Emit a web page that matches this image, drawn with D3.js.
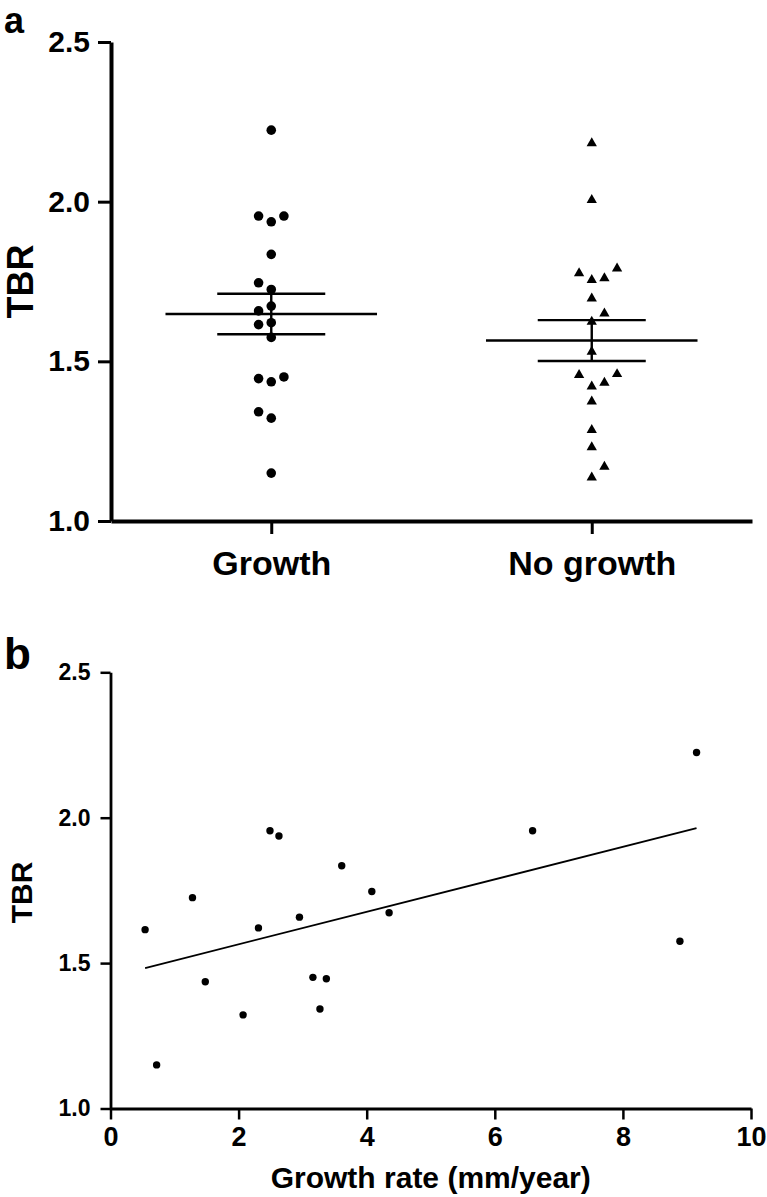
<!DOCTYPE html>
<html>
<head>
<meta charset="utf-8">
<script src="https://cdn.jsdelivr.net/npm/d3@7"></script>
<style>
  html, body { margin: 0; padding: 0; background: #fff; }
  svg { display: block; }
  text { font-family: Arial, "Liberation Sans", sans-serif; font-weight: bold; fill: #000; }
</style>
</head>
<body>
<svg id="chart" width="767" height="1197"></svg>
<script>
// ---------------- DATA ----------------
const groupLabels = ["Growth", "No growth"];
// TBR of the growing lesions (paired with growth rate, used in both panels)
const growthRate = [0.54, 0.72, 1.28, 1.48, 2.07, 2.31, 2.49, 2.63, 2.95, 3.16, 3.27, 3.37, 3.61, 4.08, 4.35, 6.59, 8.89, 9.15];
const growthTBR  = [1.615, 1.150, 1.725, 1.436, 1.322, 1.621, 1.955, 1.937, 1.658, 1.451, 1.342, 1.446, 1.835, 1.746, 1.673, 1.955, 1.575, 2.224];
const noGrowthTBR = [2.183, 2.005, 1.776, 1.755, 1.760, 1.791, 1.697, 1.650, 1.624, 1.530, 1.457, 1.421, 1.433, 1.460, 1.374, 1.285, 1.231, 1.170, 1.136];
const tbrTicks = [1.0, 1.5, 2.0, 2.5];
const rateTicks = [0, 2, 4, 6, 8, 10];

// ---------------- SETUP ----------------
const svg = d3.select("#chart");

// ===== Panel a =====
const ya = d3.scaleLinear().domain([1, 2.5]).range([521, 42]);
const xa = d3.scaleLinear().domain([0, 4]).range([111, 752]);
const groupPos = [1, 3];
const groups = [
  { label: groupLabels[0], values: growthTBR, pos: groupPos[0], shape: "circle", first: -1 },
  { label: groupLabels[1], values: noGrowthTBR, pos: groupPos[1], shape: "triangle", first: 1 }
];

// simple column swarm: place points in slots so symbols do not overlap
function swarm(values, yScale, minDist, first) {
  const order = d3.range(values.length).sort((a, b) => values[a] - values[b]);
  const placed = [];
  const slot = new Array(values.length);
  const prefs = [0, first, -first, 2 * first, -2 * first, 3 * first, -3 * first];
  for (const i of order) {
    const y = yScale(values[i]);
    for (const s of prefs) {
      if (!placed.some(p => p.s === s && Math.abs(p.y - y) < minDist)) {
        slot[i] = s; placed.push({ s, y }); break;
      }
    }
  }
  return slot;
}

const gA = svg.append("g");

// axes panel a
const yAxisA = d3.axisLeft(ya).tickValues(tbrTicks).tickFormat(d3.format(".1f"))
  .tickSize(13).tickSizeOuter(0).tickPadding(8);
const gyA = gA.append("g").attr("transform", `translate(${xa(0)},0)`).call(yAxisA);
gyA.select(".domain").attr("stroke-width", 4).attr("stroke", "#000");
gyA.selectAll(".tick line").attr("stroke-width", 3).attr("stroke", "#000");
gyA.selectAll(".tick text").style("font-size", "30px").attr("fill", "#000");

const xAxisA = d3.axisBottom(xa).tickValues(groupPos).tickFormat((d, i) => groupLabels[i])
  .tickSize(13).tickSizeOuter(0).tickPadding(17);
const gxA = gA.append("g").attr("transform", `translate(0,${ya(1)})`).call(xAxisA);
gxA.select(".domain").attr("stroke-width", 4).attr("stroke", "#000");
gxA.selectAll(".tick line").attr("stroke-width", 3).attr("stroke", "#000");
gxA.selectAll(".tick text").style("font-size", "34px").attr("fill", "#000");

gA.append("text").attr("transform", `translate(33,${ya(1.75)}) rotate(-90)`)
  .attr("text-anchor", "middle").style("font-size", "36px").text("TBR");
gA.append("text").attr("x", 4).attr("y", 33).style("font-size", "36px").text("a");

const slotW = (xa(1) - xa(0)) * 0.079; // horizontal slot spacing
const meanHalf = (xa(1) - xa(0)) * 0.66;
const semHalf = (xa(1) - xa(0)) * 0.337;

groups.forEach(g => {
  const slots = swarm(g.values, ya, 13, g.first);
  const cx = xa(g.pos);
  const pts = gA.append("g");
  if (g.shape === "circle") {
    pts.selectAll("circle").data(g.values).join("circle")
      .attr("cx", (d, i) => cx + slots[i] * slotW)
      .attr("cy", d => ya(d))
      .attr("r", 4.8).attr("fill", "#000");
  } else {
    pts.selectAll("path").data(g.values).join("path")
      .attr("d", d3.symbol(d3.symbolTriangle, 46))
      .attr("transform", (d, i) => `translate(${cx + slots[i] * slotW},${ya(d)})`)
      .attr("fill", "#000");
  }
  const m = d3.mean(g.values);
  const sem = d3.deviation(g.values) / Math.sqrt(g.values.length);
  const eb = gA.append("g").attr("stroke", "#000").attr("stroke-width", 2.4);
  eb.append("line").attr("x1", cx - meanHalf).attr("x2", cx + meanHalf).attr("y1", ya(m)).attr("y2", ya(m));
  eb.append("line").attr("x1", cx - semHalf).attr("x2", cx + semHalf).attr("y1", ya(m + sem)).attr("y2", ya(m + sem));
  eb.append("line").attr("x1", cx - semHalf).attr("x2", cx + semHalf).attr("y1", ya(m - sem)).attr("y2", ya(m - sem));
  eb.append("line").attr("x1", cx).attr("x2", cx).attr("y1", ya(m + sem)).attr("y2", ya(m - sem));
});

// ===== Panel b =====
const yb = d3.scaleLinear().domain([1, 2.5]).range([1108.5, 672.3]);
const xb = d3.scaleLinear().domain([0, 10]).range([110.5, 751]);
const gB = svg.append("g");

const yAxisB = d3.axisLeft(yb).tickValues(tbrTicks).tickFormat(d3.format(".1f"))
  .tickSize(10).tickSizeOuter(0).tickPadding(10);
const gyB = gB.append("g").attr("transform", `translate(${xb(0)},0)`).call(yAxisB);
gyB.select(".domain").attr("stroke-width", 2.8).attr("stroke", "#000");
gyB.selectAll(".tick line").attr("stroke-width", 2.5).attr("stroke", "#000");
gyB.selectAll(".tick text").style("font-size", "23px").attr("fill", "#000");

const xAxisB = d3.axisBottom(xb).tickValues(rateTicks).tickFormat(d3.format("d"))
  .tickSize(11).tickSizeOuter(0).tickPadding(7);
const gxB = gB.append("g").attr("transform", `translate(0,${yb(1)})`).call(xAxisB);
gxB.select(".domain").attr("stroke-width", 2.8).attr("stroke", "#000");
gxB.selectAll(".tick line").attr("stroke-width", 2.5).attr("stroke", "#000");
gxB.selectAll(".tick text").style("font-size", "27px").attr("fill", "#000");

gB.append("text").attr("x", (xb(0) + xb(10)) / 2).attr("y", 1188)
  .attr("text-anchor", "middle").style("font-size", "30px").text("Growth rate (mm/year)");
gB.append("text").attr("transform", `translate(32,${yb(1.743)}) rotate(-90)`)
  .attr("text-anchor", "middle").style("font-size", "30px").text("TBR");
gB.append("text").attr("x", 4).attr("y", 669).style("font-size", "44px").text("b");

// linear regression
const pairs = growthRate.map((r, i) => [r, growthTBR[i]]);
const mx = d3.mean(growthRate), my = d3.mean(growthTBR);
const slope = d3.sum(pairs, p => (p[0] - mx) * (p[1] - my)) / d3.sum(pairs, p => (p[0] - mx) ** 2);
const icpt = my - slope * mx;
const [xmin, xmax] = d3.extent(growthRate);
gB.append("line")
  .attr("x1", xb(xmin)).attr("y1", yb(icpt + slope * xmin))
  .attr("x2", xb(xmax)).attr("y2", yb(icpt + slope * xmax))
  .attr("stroke", "#000").attr("stroke-width", 1.8);

gB.append("g").selectAll("circle").data(pairs).join("circle")
  .attr("cx", d => xb(d[0])).attr("cy", d => yb(d[1]))
  .attr("r", 3.7).attr("fill", "#000");
</script>
</body>
</html>
